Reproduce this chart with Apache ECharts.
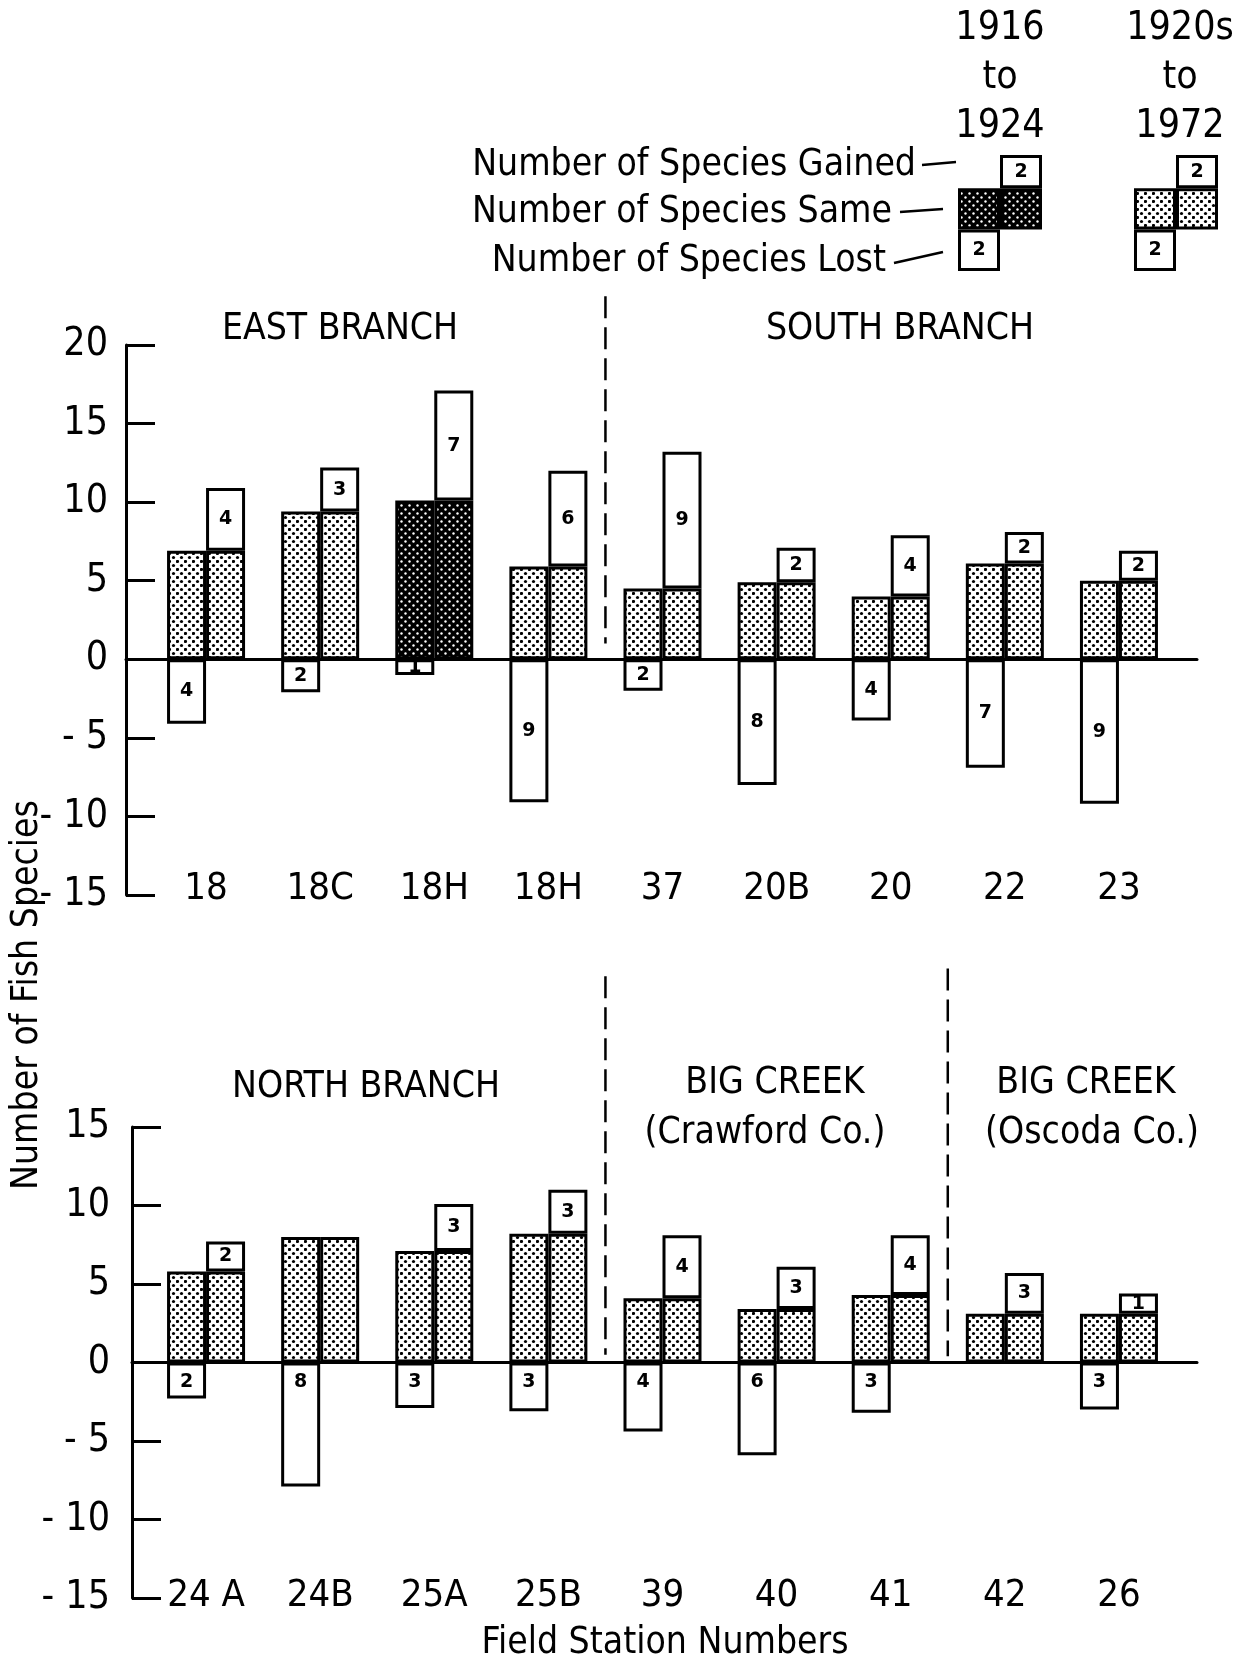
<!DOCTYPE html>
<html>
<head>
<meta charset="utf-8">
<title>Number of Fish Species by Field Station</title>
<script src="https://cdn.jsdelivr.net/npm/echarts@6/dist/echarts.min.js"></script>
<style>
  html, body { margin: 0; padding: 0; background: #fff; }
  #chart { width: 1233px; height: 1665px; }
</style>
</head>
<body>
<div id="chart"></div>
<script>
// upper panel: East Branch and South Branch
const topStations = ['18', '18C', '18H', '18H', '37', '20B', '20', '22', '23']
const topSurvey = ['1920s-1972', '1920s-1972', '1916-1924', '1920s-1972', '1920s-1972', '1920s-1972', '1920s-1972', '1920s-1972', '1920s-1972']
const topSame = [6.9, 9.4, 10.1, 5.9, 4.5, 4.9, 4.0, 6.1, 5.0]
const topGained = [4.0, 2.8, 7.0, 6.1, 8.7, 2.2, 3.9, 2.0, 1.9]
const topLost = [-4.1, -2.1, -1.0, -9.1, -2.0, -8.0, -3.9, -6.9, -9.2]
const topGainedText = ['4', '3', '7', '6', '9', '2', '4', '2', '2']
const topLostText = ['4', '2', '1', '9', '2', '8', '4', '7', '9']

// lower panel: North Branch and Big Creek
const botStations = ['24 A', '24B', '25A', '25B', '39', '40', '41', '42', '26']
const botSurvey = ['1920s-1972', '1920s-1972', '1920s-1972', '1920s-1972', '1920s-1972', '1920s-1972', '1920s-1972', '1920s-1972', '1920s-1972']
const botSame = [5.8, 8.0, 7.1, 8.2, 4.1, 3.4, 4.3, 3.1, 3.1]
const botGained = [1.9, null, 3.0, 2.8, 4.0, 2.7, 3.8, 2.6, 1.3]
const botLost = [-2.3, -7.9, -2.9, -3.1, -4.4, -5.9, -3.2, null, -3.0]
const botGainedText = ['2', '', '3', '3', '4', '3', '4', '3', '1']
const botLostText = ['2', '8', '3', '3', '4', '6', '3', '', '3']

// key at top right
const keyColumns = ['1916\nto\n1924', '1920s\nto\n1972']
const keySurvey = ['1916-1924', '1920s-1972']
const keySame = [1, 1]
const keyGained = [0.8, 0.8]
const keyLost = [-1, -1]
const keyText = ['2', '2']

// y axis ticks
const topTicks = { min: -15, max: 20, interval: 5 }
const botTicks = { min: -15, max: 15, interval: 5 }

const wordFont = "'DejaVu Sans Condensed', 'Liberation Sans Narrow', 'DejaVu Sans', sans-serif"
const numFont = "'Liberation Sans Narrow', 'DejaVu Sans Condensed', sans-serif"
const boxFont = "'DejaVu Sans', sans-serif"

function stipple(bg, dot, r) {
	const c = document.createElement('canvas')
	c.width = 8
	c.height = 8
	const g = c.getContext('2d')
	g.fillStyle = bg
	g.fillRect(0, 0, 8, 8)
	g.fillStyle = dot
	;[[1.5, 1.5], [5.5, 5.5]].forEach(function (p) {
		g.beginPath()
		g.arc(p[0], p[1], r, 0, Math.PI * 2)
		g.fill()
	})
	return { image: c, repeat: 'repeat' }
}
const light = stipple('#fff', '#000', 1.6)
const dark = stipple('#000', '#fff', 1.2)

function blank(arr) {
	return arr.map(function (v) { return v == null ? '-' : v })
}

function boxLabel(texts, position, distance) {
	return {
		show: true,
		position: position,
		distance: distance,
		color: '#000',
		fontFamily: boxFont,
		fontWeight: 'bold',
		fontSize: 19,
		formatter: function (p) { return texts[p.dataIndex] }
	}
}

// four bar series per panel: left column = same + lost, right column = same + gained
function panelSeries(axis, key, same, gained, lost, survey, gainedText, lostText, lostPos, width) {
	const box = { color: '#fff', borderColor: '#000', borderWidth: 3 }
	const sameData = same.map(function (v, i) {
		return { value: v, itemStyle: { color: survey[i] === '1916-1924' ? dark : light } }
	})
	const common = {
		type: 'bar',
		xAxisIndex: axis,
		yAxisIndex: axis,
		barWidth: width,
		barGap: 0,
		clip: false,
		silent: true
	}
	return [
		Object.assign({}, common, {
			name: key + ' same (old)', stack: key + 'old', data: sameData,
			itemStyle: { borderColor: '#000', borderWidth: 3 }
		}),
		Object.assign({}, common, {
			name: key + ' lost', stack: key + 'old', data: blank(lost),
			itemStyle: box, label: boxLabel(lostText, lostPos, 10)
		}),
		Object.assign({}, common, {
			name: key + ' same (new)', stack: key + 'new', data: sameData,
			itemStyle: { borderColor: '#000', borderWidth: 3 }
		}),
		Object.assign({}, common, {
			name: key + ' gained', stack: key + 'new', data: blank(gained),
			itemStyle: box, label: boxLabel(gainedText, 'inside', 5)
		})
	]
}

function frameY(grid, ticks, margin) {
	return {
		gridIndex: grid, type: 'value', min: ticks.min, max: ticks.max, interval: ticks.interval,
		axisLine: { show: true, lineStyle: { color: '#000', width: 3 } },
		axisTick: { show: true, inside: true, length: 29, lineStyle: { color: '#000', width: 3 } },
		axisLabel: {
			margin: margin, color: '#000', fontFamily: numFont, fontSize: 39,
			formatter: function (v) { return v < 0 ? '- ' + Math.abs(v) : String(v) }
		},
		splitLine: { show: false }
	}
}
function frameX(grid) {
	return {
		gridIndex: grid, type: 'value', min: 0, max: 1,
		axisLine: { show: true, onZero: true, lineStyle: { color: '#000', width: 3 } },
		axisTick: { show: false }, axisLabel: { show: false }, splitLine: { show: false }
	}
}
function dataY(grid, ticks) {
	return { gridIndex: grid, type: 'value', min: ticks.min, max: ticks.max, show: false }
}
function dataX(grid, stations, margin) {
	return {
		gridIndex: grid, type: 'category', data: stations,
		axisLine: { show: false, onZero: false }, axisTick: { show: false },
		axisLabel: {
			margin: margin, verticalAlign: 'middle', color: '#000',
			fontFamily: numFont, fontSize: 38, interval: 0
		}
	}
}

const option = {
	backgroundColor: '#fff',
	animation: false,
	grid: [
		{ left: 126, right: 36, top: 345, height: 550 },
		{ left: 149, right: 57, top: 345, height: 550 },
		{ left: 132, right: 36, top: 1127, height: 471 },
		{ left: 149, right: 57, top: 1127, height: 471 },
		// key: the two columns sit on the grid edges
		{ left: 1000, right: 57, top: 155, height: 116 }
	],
	xAxis: [
		frameX(0),
		dataX(1, topStations, -6),
		frameX(2),
		dataX(3, botStations, -2),
		{ gridIndex: 4, type: 'category', data: keyColumns, boundaryGap: false, show: false }
	],
	yAxis: [
		frameY(0, topTicks, 18),
		dataY(1, topTicks),
		frameY(2, botTicks, 22),
		dataY(3, botTicks),
		{ gridIndex: 4, type: 'value', min: -1, max: 1.8, show: false }
	],
	series: [].concat(
		panelSeries(1, 'top', topSame, topGained, topLost, topSurvey, topGainedText, topLostText, 'inside', 39),
		panelSeries(3, 'bot', botSame, botGained, botLost, botSurvey, botGainedText, botLostText, 'insideTop', 39),
		panelSeries(4, 'key', keySame, keyGained, keyLost, keySurvey, keyText, keyText, 'inside', 42)
	)
}

const chart = echarts.init(document.getElementById('chart'))
chart.setOption(option)

// dashed separators between river sections, placed halfway between two stations
function divider(grid, after, from, to) {
	const a = chart.convertToPixel({ gridIndex: grid }, [after, from])
	const b = chart.convertToPixel({ gridIndex: grid }, [after + 1, to])
	const x = (a[0] + b[0]) / 2
	return {
		type: 'line', silent: true,
		shape: { x1: x, y1: a[1], x2: x, y2: b[1] },
		style: { stroke: '#000', lineWidth: 2.5, lineDash: [22, 9] }
	}
}

function txt(text, x, y, font, size, align, rotation) {
	return {
		type: 'text', x: x, y: y, rotation: rotation || 0, silent: true,
		style: {
			text: text, fill: '#000', font: size + 'px ' + font,
			textAlign: align || 'center', textVerticalAlign: 'middle', lineHeight: 49
		}
	}
}
function lead(x1, y1, x2, y2) {
	return { type: 'line', silent: true, shape: { x1: x1, y1: y1, x2: x2, y2: y2 }, style: { stroke: '#000', lineWidth: 2.5 } }
}

chart.setOption({
	graphic: [
		divider(1, 3, 23.1, 1.0),
		divider(3, 3, 24.6, 0.5),
		divider(3, 6, 25.1, 0.4),
		txt('EAST BRANCH', 340, 329, wordFont, 37),
		txt('SOUTH BRANCH', 900, 329, wordFont, 37),
		txt('NORTH BRANCH', 366, 1087, wordFont, 37),
		txt('BIG CREEK', 775, 1083, wordFont, 37),
		txt('(Crawford Co.)', 765, 1133, wordFont, 37),
		txt('BIG CREEK', 1086, 1083, wordFont, 37),
		txt('(Oscoda Co.)', 1092, 1133, wordFont, 37),
		txt('Field Station Numbers', 665, 1643, wordFont, 37),
		txt('Number of Fish Species', 27, 995, wordFont, 37, 'center', Math.PI / 2),
		txt(keyColumns[0], 1000, 78, numFont, 39),
		txt(keyColumns[1], 1180, 78, numFont, 39),
		txt('Number of Species Gained', 916, 165, wordFont, 37, 'right'),
		txt('Number of Species Same', 892, 212, wordFont, 37, 'right'),
		txt('Number of Species Lost', 886, 261, wordFont, 37, 'right'),
		lead(922, 165, 956, 162),
		lead(900, 212, 943, 209),
		lead(894, 263, 943, 252)
	]
})
</script>
</body>
</html>
